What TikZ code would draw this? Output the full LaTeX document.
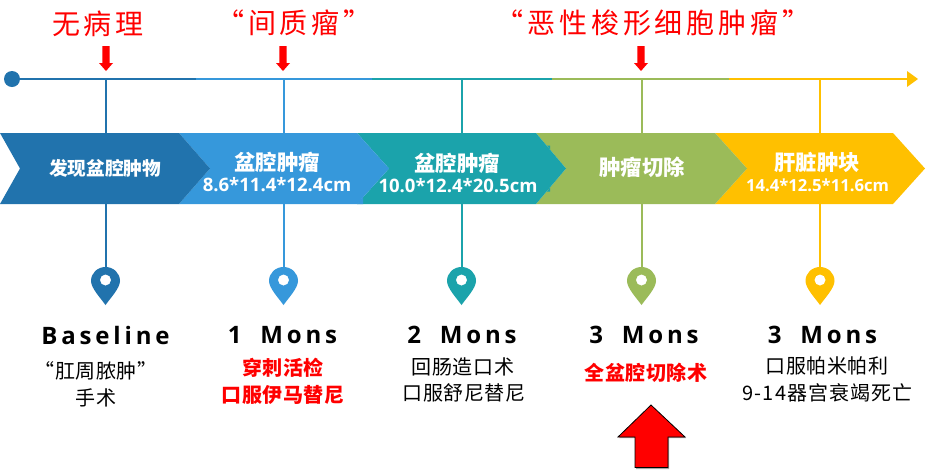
\documentclass[tikz,border=0pt]{standalone}
\usepackage{fontspec}
\usetikzlibrary{calc}
\setmainfont{Open Sans}
\newfontfamily\cjk{Noto Sans CJK SC}
\newfontfamily\cjktop[LetterSpace=14]{Noto Sans CJK SC}
\newfontfamily\cjkmid[LetterSpace=3]{Noto Sans CJK SC}
\newfontfamily\cjkwide[LetterSpace=5]{Noto Sans CJK SC}
\newfontfamily\latmon[LetterSpace=16]{Open Sans}
\newfontfamily\latnum{Open Sans}
\definecolor{cA}{HTML}{2173AD}
\definecolor{cB}{HTML}{3698DB}
\definecolor{cC}{HTML}{1BA3AB}
\definecolor{cD}{HTML}{9BBB59}
\definecolor{cE}{HTML}{FFC000}
\tikzset{
  x=0.75pt,y=-0.75pt,
  toplabel/.style={text=red,inner sep=0,font=\fontsize{21}{21}\selectfont\cjktop},
  chevtitle/.style={text=white,inner sep=0,font=\fontsize{16}{16}\selectfont\cjk\bfseries},
  chevsize/.style={text=white,inner sep=0,font=\fontsize{13.9}{14}\selectfont\latnum\bfseries},
  month/.style={inner sep=0,font=\fontsize{18}{18}\selectfont\latmon\bfseries},
  note/.style={inner sep=0,font=\fontsize{15}{15}\selectfont\cjkmid},
  rednote/.style={inner sep=0,text=red,font=\fontsize{15}{15}\selectfont\cjkmid\bfseries},
  stem/.style={line width=1.5pt},
  axis/.style={line width=1.5pt},
}
\newcommand{\chevron}[5]{% colour, left, right, tip, notch
  \fill[#1] (#2,133) -- (#3,133) -- (#4,168.5) -- (#3,204) -- (#2,204) -- (#5,168.5) -- cycle;}
\newcommand{\downmark}[1]{%
  \fill[red] (#1-3.7,46) -- (#1+3.7,46) -- (#1+3.7,63) -- (#1+7,63) -- (#1,71) -- (#1-7,63) -- (#1-3.7,63) -- cycle;}
\newcommand{\mapspin}[2]{% colour, x
  \fill[#1,even odd rule] (#2,305)
    .. controls (#2-5,298) and (#2-14.5,288) .. (#2-14.5,281)
    .. controls (#2-14.5,273) and (#2-8,267) .. (#2,267)
    .. controls (#2+8,267) and (#2+14.5,273) .. (#2+14.5,281)
    .. controls (#2+14.5,288) and (#2+5,298) .. (#2,305) -- cycle
    (#2+5.6,280) arc[start angle=0,end angle=360,radius=4.2pt];}
\begin{document}
\begin{tikzpicture}
\useasboundingbox (0,0) rectangle (928,469);
\fill[white] (0,0) rectangle (928,469);
% axis
\coordinate (a0) at (12,79);
\coordinate (a1) at (196,79);
\coordinate (a2) at (372,79);
\coordinate (a3) at (552,79);
\coordinate (a4) at (729,79);
\coordinate (a5) at (908,79);
\draw[axis,cA] (a0) -- (a1);
\draw[axis,cB] (a1) -- (a2);
\draw[axis,cC] (a2) -- (a3);
\draw[axis,cD] (a3) -- (a4);
\draw[axis,cE] (a4) -- (a5);
\fill[cE] (907,71) -- (918,79) -- (907,87) -- cycle;
\fill[cA] (a0) circle[radius=6pt];
% stems
\draw[stem,cA] (106,79) -- (106,270);
\draw[stem,cB] (284,79) -- (284,270);
\draw[stem,cC] (462,79) -- (462,270);
\draw[stem,cD] (642,79) -- (642,270);
\draw[stem,cE] (820,79) -- (820,270);
% chevrons, right to left
\chevron{cE}{715}{893}{925}{747}
\chevron{cD}{536}{715}{747}{566}
\chevron{cC}{357}{536}{566}{389}
\chevron{cB}{179}{357}{389}{210}
\chevron{cA}{0}{179}{210}{20}
% small overlaps left by the text boxes
\fill[cB] (357,204) -- (363,197) -- (363,204) -- cycle;
\fill[cC] (547,145.5) -- (550,145.5) -- (550,149.5) -- cycle;
\fill[cC] (547,191.5) -- (550,191.5) -- (550,187.5) -- cycle;
% pins
\mapspin{cA}{105.5}
\mapspin{cB}{283.5}
\mapspin{cC}{461.5}
\mapspin{cD}{641.5}
\mapspin{cE}{820}
% red markers
\downmark{106}
\downmark{283}
\downmark{641}
\fill[gray!70] (619,438) -- (652,406) -- (686,438) -- (669,438) -- (669,469) -- (636,469) -- (636,438) -- cycle;
\draw[fill=red,line width=0.6pt] (618,437) -- (651,405) -- (685,437) -- (668,437) -- (668,467.5) -- (635,467.5) -- (635,437) -- cycle;
% top labels
\node[toplabel] (t1) at (98,23.5) {无病理};
\node[toplabel] (t2) at (294,22.5) {“间质瘤”};
\node[toplabel] (t3) at (653,22.5) {“恶性梭形细胞肿瘤”};
% chevron labels
\node[chevtitle,font=\fontsize{14}{14}\selectfont\cjk\bfseries] (c1) at (105,168) {发现盆腔肿物};
\node[chevtitle] (c2) at (277,162) {盆腔肿瘤};
\node[chevsize] (s2) at (277,185) {8.6*11.4*12.4cm};
\node[chevtitle] (c3) at (457,163) {盆腔肿瘤};
\node[chevsize] (s3) at (458,186) {10.0*12.4*20.5cm};
\node[chevtitle] (c4) at (642,167) {肿瘤切除};
\node[chevtitle] (c5) at (817,162) {肝脏肿块};
\node[chevsize,font=\fontsize{12.5}{13}\selectfont\latnum\bfseries] (s5) at (817.5,185) {14.4*12.5*11.6cm};
% months
\node[month] (m1) at (105.5,335) {Baseline};
\node[month] (m2) at (282.5,335) {1\hspace{6.5pt} Mons};
\node[month] (m3) at (462,335) {2\hspace{6.5pt} Mons};
\node[month] (m4) at (644,335) {3\hspace{6.5pt} Mons};
\node[month] (m5) at (822.5,335) {3\hspace{6.5pt} Mons};
% notes
\node[note] (n1a) at (96,371) {“肛周脓肿”};
\node[note] (n1b) at (96,398) {手术};
\node[rednote] (n2a) at (283,368) {穿刺活检};
\node[rednote] (n2b) at (283,395) {口服伊马替尼};
\node[note] (n3a) at (463,367) {回肠造口术};
\node[note] (n3b) at (464,393) {口服舒尼替尼};
\node[rednote] (n4a) at (646,373) {全盆腔切除术};
\node[note] (n5a) at (827,366) {口服帕米帕利};
\node[note,font=\fontsize{15}{15}\selectfont\cjkwide] (n5b) at (827.5,393) {9-14器宫衰竭死亡};
\end{tikzpicture}
\end{document}
